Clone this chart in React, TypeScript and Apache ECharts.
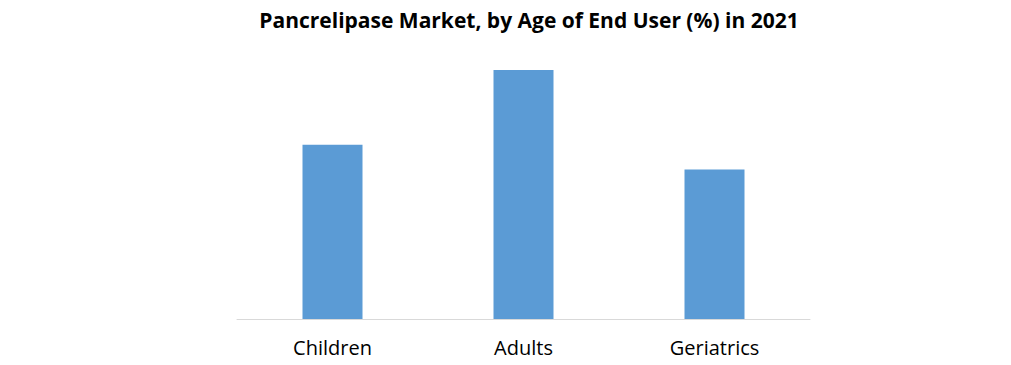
import React, { useEffect, useRef } from "react";
import * as echarts from "echarts";

const categories = ["Children", "Adults", "Geriatrics"];
const shares = [35, 50, 30];
const titleText = "Pancrelipase Market, by Age of End User (%) in 2021";

export default function App() {
  const ref = useRef<HTMLDivElement>(null);
  useEffect(() => {
    document.body.style.margin = "0";
    const chart = echarts.init(ref.current!, undefined, { renderer: "svg" });
    chart.setOption({
      animation: false,
      backgroundColor: "#ffffff",
      title: {
        text: titleText,
        left: 524,
        textAlign: "center",
        top: 4,
        textStyle: {
          fontFamily: "'Open Sans', sans-serif",
          fontSize: 21,
          fontWeight: "bold",
          color: "#000000",
        },
      },
      grid: { left: 237, right: 201, top: 45, bottom: 46 },
      xAxis: {
        type: "category",
        data: categories,
        axisLine: { lineStyle: { color: "#D9D9D9", width: 1 } },
        axisTick: { show: false },
        axisLabel: {
          margin: 18,
          fontFamily: "'Open Sans', sans-serif",
          fontSize: 20,
          color: "#000000",
        },
      },
      yAxis: {
        type: "value",
        min: 0,
        max: 55,
        show: false,
        splitLine: { show: false },
      },
      series: [
        {
          type: "bar",
          data: shares,
          barWidth: 60,
          itemStyle: { color: "#5B9BD5" },
        },
      ],
    });
    return () => chart.dispose();
  }, []);
  return <div ref={ref} style={{ width: 1011, height: 365 }} />;
}
